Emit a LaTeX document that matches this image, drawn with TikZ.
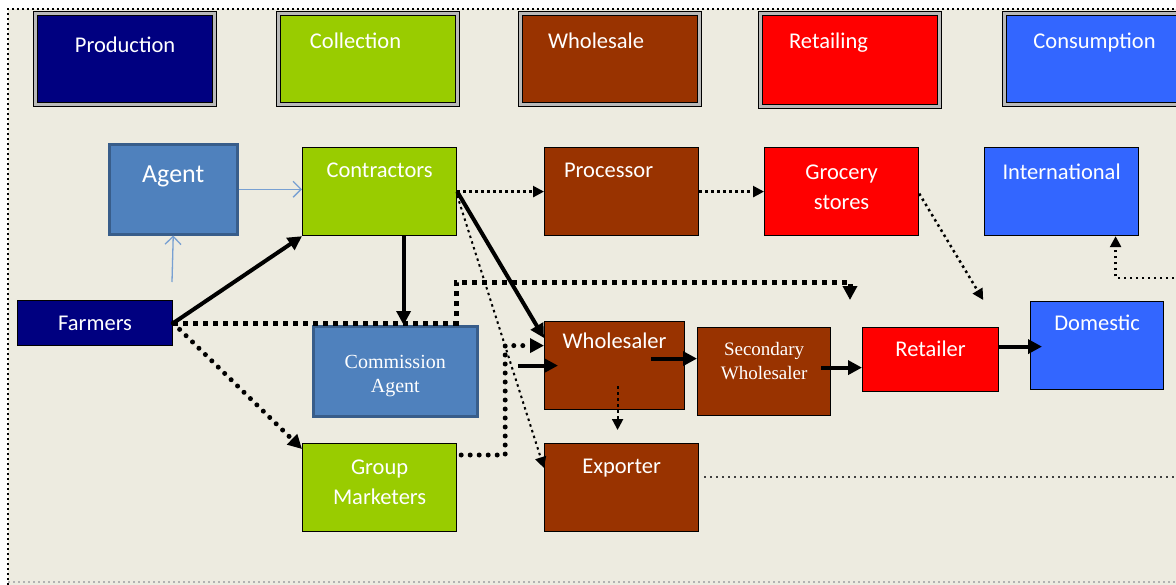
\documentclass[tikz,border=0pt]{standalone}
\usepackage{fontspec}
\setmainfont{Carlito}
\newfontfamily\timesfont{Liberation Serif}
\usetikzlibrary{arrows.meta, calc}

\definecolor{navy}{RGB}{0,0,128}
\definecolor{leaf}{RGB}{153,204,0}
\definecolor{rust}{RGB}{153,51,0}
\definecolor{steel}{RGB}{79,129,189}
\definecolor{steeledge}{RGB}{56,93,138}
\definecolor{royal}{RGB}{51,102,255}
\definecolor{paper}{RGB}{237,235,224}
\definecolor{thinblue}{RGB}{120,160,210}

\tikzstyle{stage} = [draw=black, line width=1.1pt,
double=gray!55, double distance=2.6pt,
inner sep=0pt, anchor=north west, text=white,
minimum width=179, font=\fontsize{22.5}{27}\selectfont]
\tikzstyle{cell} = [draw=black, line width=1.2pt,
inner sep=0pt, anchor=north west, text=white,
font=\fontsize{22.5}{30.5}\selectfont]

\begin{document}
\begin{tikzpicture}[
        x=1pt, y=-1pt,
        feed/.style={-{Triangle[length=14pt,width=14pt]}, line width=4pt},
        trail/.style={-{Triangle[length=11pt,width=11pt]}, line width=2.5pt, dash pattern=on 2.5pt off 3.5pt},
        route/.style={-{Triangle[length=14pt,width=14pt]}, line width=5pt, dash pattern=on 5pt off 5pt},
        hint/.style={-{Straight Barb[length=8pt,width=16pt]}, thinblue, line width=1.3pt},
    ]
        \useasboundingbox (0,0) rectangle (1176,584);
        \clip (0,0) rectangle (1176,584);
        \fill[white] (0,0) rectangle (1176,584);
        \fill[paper] (8,9) rectangle (1180,590);
        \draw[line width=2.2pt, dash pattern=on 2.2pt off 2.8pt] (8,590) -- (8,9) -- (1180,9);
        \draw[gray!60, line width=1.5pt, dash pattern=on 2pt off 3pt] (8,582) -- (1180,582);

        % stages of the chain
        \node[stage, fill=navy, text height=39pt, text depth=52pt] (production) at (35,13) {Production};
        \node[stage, fill=leaf, text height=35pt, text depth=56pt] (collection) at (278,13) {Collection\kern25pt};
        \node[stage, fill=rust, text height=35pt, text depth=56pt] (wholesale) at (520,13) {Wholesale\kern28pt};
        \node[stage, fill=red, text height=35pt, text depth=58pt] (retailing) at (760,13) {Retailing\kern43pt};
        \node[stage, fill=royal, minimum width=180, text height=35pt, text depth=56pt] (consumption) at (1004,13) {Consumption};

        % actors
        \node[cell, fill=steel, draw=steeledge, line width=2.5pt, minimum width=128, text height=38pt, text depth=52pt, font=\fontsize{26}{30}\selectfont] (agent) at (108,143) {Agent};
        \node[cell, fill=leaf, minimum width=154, text height=30pt, text depth=58pt] (contractors) at (302,147) {Contractors};
        \node[cell, fill=rust, minimum width=154, text height=30pt, text depth=58pt] (processor) at (544,147) {Processor\kern26pt};
        \node[cell, fill=red, minimum width=154, align=center, text height=62pt, text depth=26pt] (grocery) at (764,147) {Grocery\\stores};
        \node[cell, fill=royal, minimum width=154, text height=32pt, text depth=56pt] (international) at (984,147) {International};
        \node[cell, fill=navy, minimum width=155, text height=30pt, text depth=15pt] (farmers) at (17,300) {Farmers};
        \node[cell, fill=steel, draw=steeledge, line width=2.5pt, minimum width=164, align=center, text height=66pt, text depth=24pt, font=\timesfont\fontsize{20}{24}\selectfont] (commission) at (312,325) {Commission\\Agent};
        \node[cell, fill=rust, minimum width=140, text height=27pt, text depth=61pt] (wholesaler) at (544,321) {Wholesaler};
        \node[cell, fill=rust, minimum width=133, align=center, text height=52pt, text depth=36pt, font=\timesfont\fontsize{19}{24}\selectfont] (secondary) at (697,327) {Secondary\\Wholesaler};
        \node[cell, fill=red, minimum width=136, text height=29pt, text depth=35pt] (retailer) at (862,327) {Retailer};
        \node[cell, fill=royal, minimum width=133, text height=29pt, text depth=59pt] (domestic) at (1030,301) {Domestic};
        \node[cell, fill=leaf, minimum width=154, align=center, text height=61pt, text depth=27pt] (group) at (302,443) {Group\\Marketers};
        \node[cell, fill=rust, minimum width=154, text height=30pt, text depth=58pt] (exporter) at (544,443) {Exporter};

        % flows
        \coordinate (agentfoot) at (172,282);
        \coordinate (offright) at (1180,278);
        \draw[hint] (agent.east) -- (agent.east -| contractors.west);
        \draw[hint] (agentfoot) -- (agent.south);
        \draw[feed] (farmers.east) -- (contractors.south west);
        \draw[feed] ($(contractors.south)+(24,0)$) coordinate (cdrop) -- (cdrop |- commission.north);
        \draw[feed] (contractors.east) -- ($(wholesaler.north west)+(0,17)$);
        \draw[trail] (contractors.east) -- (processor.west);
        \draw[trail, line width=2pt] ($(contractors.east)+(0,4)$) -- ($(exporter.north west)+(0,25)$);
        \draw[trail] (processor.east) -- (grocery.west);
        \draw[trail] ($(grocery.east)+(0,2)$) -- ($(retailer.north east)+(-16,-27)$);
        \draw[route] (farmers.east) -- ++(283,0) -- ++(0,-41) -| ($(retailer.north west)+(-12,-27)$);
        \draw[route, line cap=round, dash pattern=on 0pt off 9pt] (farmers.east) -- ($(group.north west)+(0,6)$);
        \draw[route, line cap=round, dash pattern=on 0pt off 9pt] ($(group.north east)+(4,12)$) -- ++(44,0) |- ($(wholesaler.west)+(0,-20)$);
        \draw[feed] ($(wholesaler.west)+(-26,0)$) -- ($(wholesaler.west)+(14,0)$);
        \draw[feed] ($(wholesaler.east)+(-34,-7)$) -- ($(secondary.west)+(0,-13)$);
        \draw[feed] ($(secondary.east)+(-10,-4)$) -- ($(retailer.west)+(0,8)$);
        \draw[feed] ($(retailer.east)+(0,-13)$) -- ($(domestic.west)+(12,1)$);
        \draw[trail, line width=2pt] ($(wholesaler.south)+(3,-24)$) -- ($(exporter.north)+(-4,-13)$);
        \draw[trail] (offright) -| ($(international.south)+(54,0)$);
        \draw[gray!50!black, line width=2pt, dash pattern=on 2pt off 4pt] ($(exporter.east)+(5,-11)$) -- ++(480,0);
    \end{tikzpicture}
\end{document}
